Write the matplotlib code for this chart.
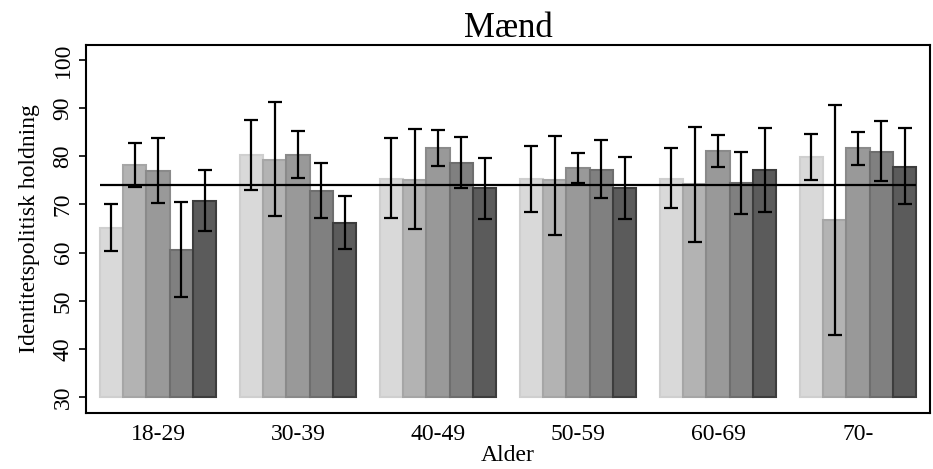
import matplotlib
matplotlib.use("Agg")
import matplotlib.pyplot as plt
import numpy as np

plt.rcParams['font.family'] = ['Liberation Serif', 'DejaVu Serif']

age_groups = ["18-29", "30-39", "40-49", "50-59", "60-69", "70-"]
series_names = ["s1", "s2", "s3", "s4", "s5"]
means = [
    [65.1, 80.2, 75.3, 75.3, 75.3, 79.8],
    [78.2, 79.2, 75.1, 75.1, 74.3, 66.7],
    [76.9, 80.3, 81.7, 77.5, 81.0, 81.7],
    [60.5, 72.8, 78.6, 77.2, 74.4, 80.9],
    [70.7, 66.1, 73.4, 73.4, 77.1, 77.8],
]
ci_low = [
    [60.3, 73.0, 67.2, 68.4, 69.2, 75.1],
    [73.6, 67.6, 64.9, 63.6, 62.2, 42.8],
    [70.3, 75.5, 78.0, 74.4, 77.8, 78.2],
    [50.7, 67.2, 73.4, 71.3, 68.0, 74.8],
    [64.4, 60.7, 66.9, 66.9, 68.4, 70.1],
]
ci_high = [
    [70.0, 87.5, 83.8, 82.1, 81.7, 84.6],
    [82.7, 91.3, 85.7, 84.2, 86.1, 90.6],
    [83.8, 85.2, 85.5, 80.7, 84.4, 85.0],
    [70.5, 78.6, 84.0, 83.4, 80.9, 87.3],
    [77.1, 71.7, 79.6, 79.8, 85.9, 85.9],
]
overall_mean = 74.0
baseline = 30
y_ticks = [30, 40, 50, 60, 70, 80, 90, 100]

fill_colors = ["#d9d9d9", "#b3b3b3", "#999999", "#808080", "#5b5b5b"]
edge_colors = ["#cfcfcf", "#a6a6a6", "#8a8a8a", "#6e6e6e", "#3d3d3d"]

fig = plt.figure(figsize=(9.33, 4.69), dpi=100)
ax = fig.add_axes([86/933, 1 - 413/469, (930-86)/933, (413-45)/469])

x = np.arange(1, len(age_groups) + 1)
w = 1/6
for i in range(len(series_names)):
    pos = x + (i - 2) * w
    m = np.array(means[i])
    lo = m - np.array(ci_low[i])
    hi = np.array(ci_high[i]) - m
    ax.bar(pos, m - baseline, bottom=baseline, width=w, color=fill_colors[i],
           edgecolor=edge_colors[i], linewidth=1.5, zorder=2)
    ax.errorbar(pos, m, yerr=[lo, hi], fmt='none', ecolor='black',
                elinewidth=1.6, capsize=5, capthick=1.6, zorder=4)

ax.hlines(overall_mean, x[0] - 2.5*w, x[-1] + 2.5*w, colors='black', linewidth=1.6, zorder=3)

ax.set_xlim(0.486, 6.514)
ax.set_ylim(26.7, 103.1)
ax.set_xticks(x)
ax.set_xticklabels(age_groups, fontsize=17)
ax.set_yticks(y_ticks)
ax.set_yticklabels([str(t) for t in y_ticks], fontsize=17, rotation=90, va='center')
ax.tick_params(axis='x', length=0, pad=8)
ax.tick_params(axis='y', length=5, width=1.2, pad=4)
for s in ax.spines.values():
    s.set_linewidth(1.5)
ax.set_xlabel("Alder", fontsize=17, labelpad=0)
ax.set_ylabel("Identitetspolitisk holdning", fontsize=17, labelpad=9)
ax.set_title("Mænd", fontsize=25, pad=4)

fig.savefig("out.png", dpi=100)
